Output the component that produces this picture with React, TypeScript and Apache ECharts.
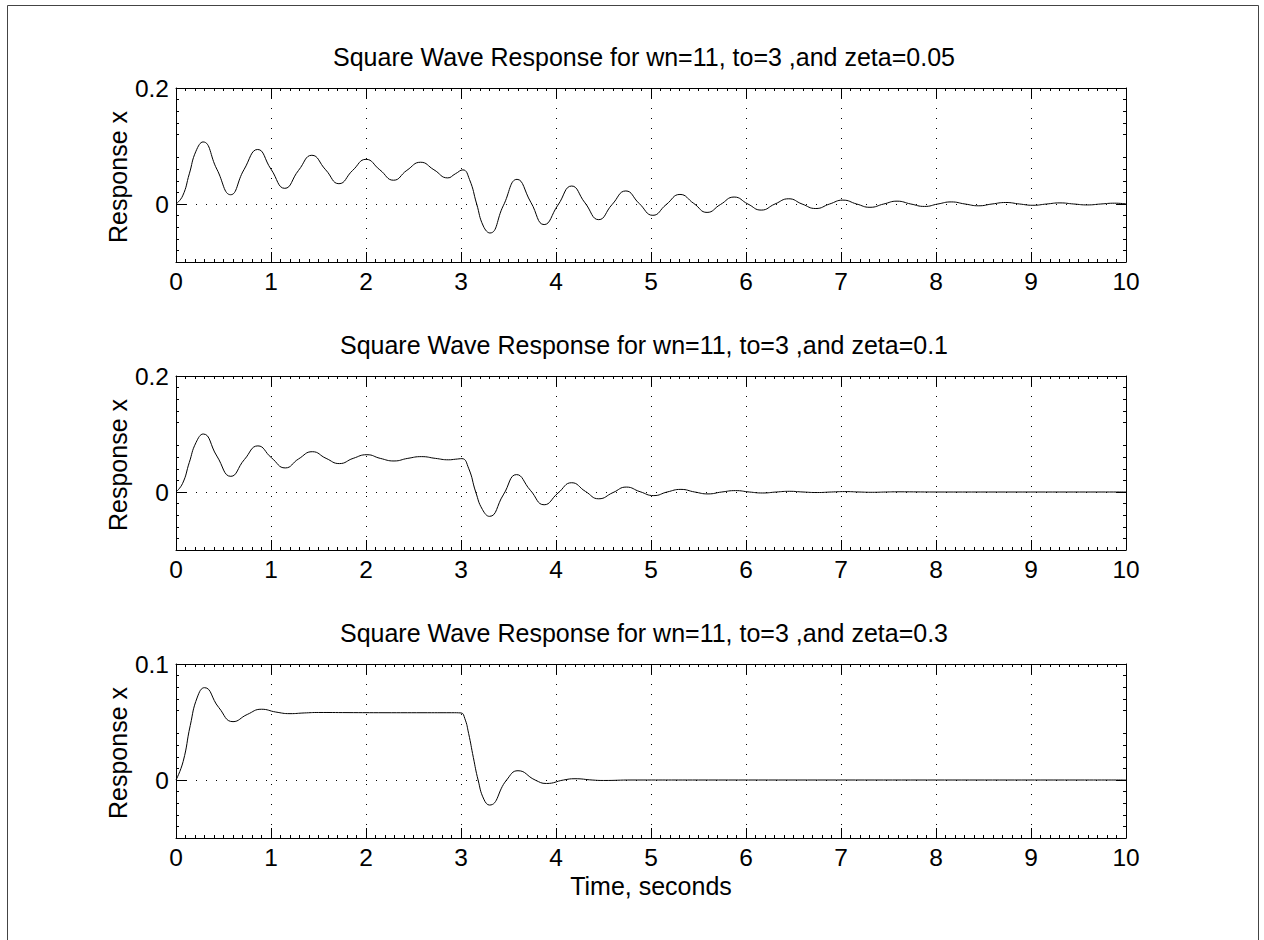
import React, { useEffect, useRef } from "react";
import * as echarts from "echarts";

// Response samples (time in seconds, displacement) for each damping ratio.
const responseZeta005: [number, number][] = [
  [0, 0], [0.07, 0.014], [0.14, 0.052], [0.21, 0.091], [0.285, 0.107],
  [0.43, 0.06], [0.575, 0.016], [0.715, 0.059], [0.86, 0.094], [1.0, 0.06],
  [1.145, 0.027], [1.29, 0.058], [1.43, 0.084], [1.575, 0.059], [1.715, 0.035],
  [1.86, 0.058], [2.0, 0.077], [2.145, 0.059], [2.29, 0.041], [2.43, 0.058],
  [2.575, 0.072], [2.715, 0.059], [2.86, 0.045], [2.94, 0.052], [3.02, 0.0588],
  [3.09, 0.042], [3.165, 0.0], [3.235, -0.038], [3.305, -0.05], [3.445, -0.003],
  [3.59, 0.0425], [3.735, 0.003], [3.875, -0.0355], [4.02, -0.002], [4.165, 0.031],
  [4.305, 0.002], [4.45, -0.027], [4.59, -0.001], [4.735, 0.0225], [4.875, 0.001],
  [5.02, -0.0195], [5.16, -0.001], [5.305, 0.0165], [5.45, 0.001], [5.59, -0.0145],
  [5.73, -0.001], [5.875, 0.012], [6.02, 0.0], [6.16, -0.0105], [6.305, 0.0],
  [6.45, 0.009], [6.59, 0.0], [6.735, -0.0078], [6.88, 0.0], [7.02, 0.0067],
  [7.165, 0.0], [7.305, -0.0057], [7.45, 0.0], [7.59, 0.0049], [7.735, 0.0],
  [7.88, -0.0042], [8.02, 0.0], [8.16, 0.0036], [8.305, 0.0], [8.45, -0.0031],
  [8.59, 0.0], [8.735, 0.0026], [8.88, 0.0], [9.02, -0.0022], [9.165, 0.0],
  [9.305, 0.0019], [9.45, 0.0], [9.595, -0.0016], [9.735, 0.0], [9.88, 0.0014],
  [10, 0.0002],
];

const responseZeta01: [number, number][] = [
  [0, 0], [0.07, 0.015], [0.14, 0.051], [0.21, 0.085], [0.287, 0.1],
  [0.43, 0.062], [0.577, 0.027], [0.72, 0.056], [0.862, 0.0795], [1.005, 0.059],
  [1.15, 0.0415], [1.29, 0.057], [1.435, 0.0695], [1.58, 0.058], [1.72, 0.049],
  [1.865, 0.058], [2.01, 0.0643], [2.15, 0.058], [2.295, 0.0535], [2.44, 0.058],
  [2.585, 0.061], [2.73, 0.058], [2.87, 0.0555], [2.94, 0.0565], [3.01, 0.0575],
  [3.08, 0.041], [3.155, 0.0], [3.225, -0.03], [3.3, -0.042], [3.445, -0.005],
  [3.585, 0.03], [3.73, 0.003], [3.875, -0.022], [4.02, -0.002], [4.165, 0.016],
  [4.31, 0.001], [4.45, -0.0117], [4.6, -0.001], [4.74, 0.0085], [4.885, 0.0005],
  [5.03, -0.0062], [5.17, 0.0], [5.315, 0.0045], [5.46, 0.0], [5.6, -0.0033],
  [5.745, 0.0], [5.89, 0.0024], [6.035, 0.0], [6.175, -0.0017], [6.32, 0.0],
  [6.46, 0.0012], [6.6, 0.0], [6.75, -0.0009], [6.9, 0.0], [7.04, 0.0007],
  [7.19, 0.0], [7.33, -0.0005], [7.47, 0.0], [7.6, 0.0003], [8.0, 0.0], [10, 0.0],
];

const responseZeta03: [number, number][] = [
  [0, 0], [0.075, 0.0159], [0.15, 0.047], [0.225, 0.0715], [0.3, 0.0796],
  [0.45, 0.0625], [0.6, 0.0503], [0.75, 0.0565], [0.9, 0.061], [1.05, 0.0586],
  [1.2, 0.0572], [1.35, 0.0578], [1.5, 0.0582], [1.8, 0.0581], [2.2, 0.058],
  [2.6, 0.058], [2.9, 0.058], [3.0, 0.0578], [3.04, 0.053], [3.08, 0.0402],
  [3.13, 0.0194], [3.18, 0.0], [3.24, -0.0165], [3.3, -0.0216], [3.48, 0.0],
  [3.6, 0.008], [3.78, 0.0], [3.9, -0.003], [4.08, 0.0], [4.2, 0.0011],
  [4.38, 0.0], [4.5, -0.0004], [4.8, 0.0], [5.5, 0.0], [10, 0.0],
];

const panelTitles = [
  "Square Wave Response for wn=11, to=3 ,and zeta=0.05",
  "Square Wave Response for wn=11, to=3 ,and zeta=0.1",
  "Square Wave Response for wn=11, to=3 ,and zeta=0.3",
];
const panelData = [responseZeta005, responseZeta01, responseZeta03];
const yMins = [-0.1, -0.1, -0.05];
const yMaxs = [0.2, 0.2, 0.1];
const ySteps = [0.1, 0.1, 0.05];
const yTickValues = [
  [0, 0.2],
  [0, 0.2],
  [0, 0.1],
];
const yLabelText = "Response x";
const xLabelText = "Time, seconds";

const FONT = '"Liberation Sans", Arial, Helvetica, sans-serif';
const TICK_FONT_SIZE = 24.5;
const LABEL_FONT_SIZE = 25;
const GRID_LEFT = 176;
const GRID_WIDTH = 950;
const GRID_HEIGHT = 174;
const GRID_TOPS = [88, 376, 664];
const TITLE_CENTER_X = 644;
const DOTS = [1, 9];

function buildOption(): echarts.EChartsOption {
  const grid: any[] = [];
  const xAxis: any[] = [];
  const yAxis: any[] = [];
  const series: any[] = [];
  const graphic: any[] = [];

  const axisLine = { show: true, onZero: false, lineStyle: { color: "#000", width: 1 } };
  const tickStyle = { color: "#000", width: 1 };
  const textStyle = { fontSize: LABEL_FONT_SIZE, fontFamily: FONT, fill: "#000" };

  GRID_TOPS.forEach((top, i) => {
    grid.push({ left: GRID_LEFT, top, width: GRID_WIDTH, height: GRID_HEIGHT, show: false });

    const xBase = {
      type: "value",
      gridIndex: i,
      min: 0,
      max: 10,
      interval: 1,
      axisLine,
      axisTick: { show: true, inside: true, length: 10, lineStyle: tickStyle },
      minorTick: { show: true, splitNumber: 10, length: 3, lineStyle: tickStyle },
    };
    xAxis.push({
      ...xBase,
      position: "bottom",
      axisLabel: { color: "#000", fontSize: TICK_FONT_SIZE, fontFamily: FONT, margin: 7 },
      splitLine: { show: true, lineStyle: { color: "#000", width: 1, type: DOTS } },
    });
    xAxis.push({
      ...xBase,
      position: "top",
      axisLabel: { show: false },
      splitLine: { show: false },
    });

    const yBase = {
      type: "value",
      gridIndex: i,
      min: yMins[i],
      max: yMaxs[i],
      interval: ySteps[i],
      axisLine,
      axisTick: {
        show: true,
        inside: true,
        length: 10,
        lineStyle: tickStyle,
        customValues: yTickValues[i],
      },
      minorTick: { show: true, splitNumber: 5, length: 3, lineStyle: tickStyle },
    };
    yAxis.push({
      ...yBase,
      position: "left",
      axisLabel: {
        color: "#000",
        fontSize: TICK_FONT_SIZE,
        fontFamily: FONT,
        margin: 7,
        customValues: yTickValues[i],
      },
      splitLine: { show: true, lineStyle: { color: "#000", width: 1, type: DOTS } },
    });
    yAxis.push({
      ...yBase,
      position: "right",
      axisLabel: { show: false },
      splitLine: { show: false },
    });

    series.push({
      type: "line",
      xAxisIndex: 2 * i,
      yAxisIndex: 2 * i,
      data: panelData[i],
      showSymbol: false,
      smooth: 0.5,
      silent: true,
      z: 5,
      lineStyle: { color: "#000", width: 1 },
    });

    graphic.push({
      type: "text",
      x: TITLE_CENTER_X,
      y: top - 31,
      silent: true,
      style: { ...textStyle, text: panelTitles[i], textAlign: "center", textVerticalAlign: "middle" },
    });
    graphic.push({
      type: "text",
      x: 118,
      y: top + GRID_HEIGHT / 2 + 2,
      rotation: Math.PI / 2,
      silent: true,
      style: { ...textStyle, text: yLabelText, textAlign: "center", textVerticalAlign: "middle" },
    });
  });

  graphic.push({
    type: "text",
    x: GRID_LEFT + GRID_WIDTH / 2,
    y: 886,
    silent: true,
    style: { ...textStyle, text: xLabelText, textAlign: "center", textVerticalAlign: "middle" },
  });

  // Figure frame
  graphic.push({
    type: "rect",
    silent: true,
    z: -10,
    shape: { x: 7.5, y: 5.5, width: 1251, height: 1000 },
    style: { fill: "none", stroke: "#444", lineWidth: 1 },
  });

  return {
    animation: false,
    backgroundColor: "#fff",
    grid,
    xAxis,
    yAxis,
    series,
    graphic,
  };
}

export default function App() {
  const ref = useRef<HTMLDivElement>(null);

  useEffect(() => {
    if (!ref.current) return;
    const chart = echarts.init(ref.current, undefined, { renderer: "svg" });
    chart.setOption(buildOption());
    return () => chart.dispose();
  }, []);

  return (
    <div
      ref={ref}
      style={{ position: "fixed", left: 0, top: 0, width: 1264, height: 940, background: "#fff" }}
    />
  );
}
